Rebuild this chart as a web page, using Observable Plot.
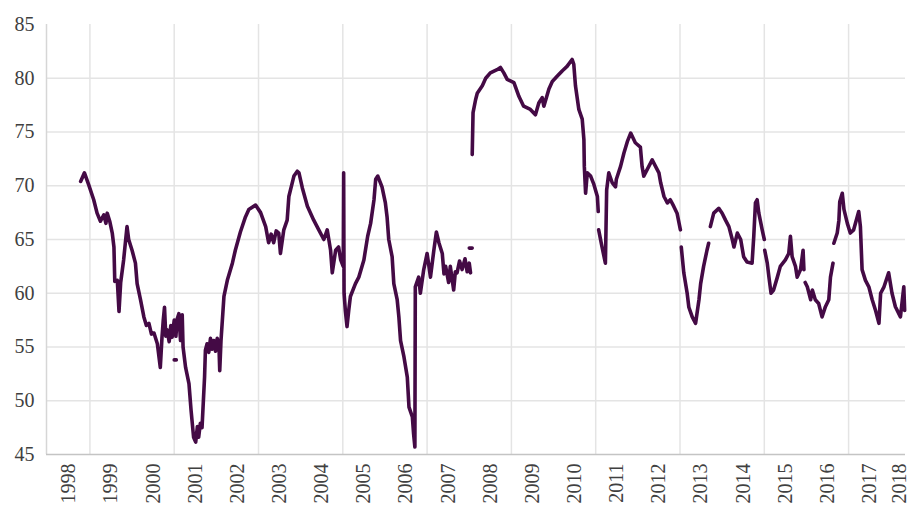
<!DOCTYPE html>
<html><head><meta charset="utf-8">
<script src="https://cdn.jsdelivr.net/npm/d3@7"></script>
<script src="https://cdn.jsdelivr.net/npm/@observablehq/plot@0.6"></script>
<style>body{margin:0;background:#fff}</style>
</head><body><div id="chart"></div>
<script>
// decimal-year positions and index values (null = gap)
const dates = [
1998.28,1998.37,1998.47,1998.59,1998.67,1998.75,1998.83,1998.88,1998.91,1998.97,1999.03,1999.07,1999.09,1999.15,1999.19,1999.23,1999.30,1999.38,1999.42,
1999.50,1999.58,1999.62,1999.70,1999.78,1999.84,1999.90,1999.96,2000.02,2000.10,2000.17,2000.21,
2000.24,2000.27,2000.30,2000.33,2000.38,2000.42,2000.45,2000.50,2000.54,2000.57,2000.61,2000.65,2000.69,2000.71,
2000.77,2000.85,2000.90,2000.96,2001.01,2001.05,2001.08,2001.12,2001.16,2001.22,2001.24,2001.28,
2001.32,2001.36,2001.40,2001.44,2001.48,2001.52,2001.56,2001.58,2001.61,2001.68,2001.76,2001.88,2001.95,
2002.07,2002.19,2002.27,2002.43,2002.55,2002.67,2002.74,2002.80,2002.86,2002.92,2002.98,2003.02,2003.10,
2003.18,2003.22,2003.34,2003.42,2003.46,2003.54,2003.66,2003.81,2003.93,2004.05,2004.13,2004.21,2004.25,2004.33,2004.40,2004.45,
2004.51,2004.52,2004.53,2004.56,2004.60,2004.64,2004.68,2004.80,2004.88,2005.00,2005.09,2005.16,2005.24,2005.28,2005.33,
2005.43,2005.51,2005.55,2005.59,2005.67,2005.71,2005.79,2005.83,2005.87,2005.95,2006.03,2006.07,2006.15,2006.18,2006.21,2006.22,
2006.30,2006.34,2006.42,2006.50,2006.58,2006.66,2006.72,2006.78,2006.86,2006.90,2006.94,2007.01,2007.05,2007.13,2007.17,2007.21,2007.27,2007.33,2007.40,2007.45,2007.50,2007.53,
2007.55,
2007.57,2007.59,2007.65,2007.69,2007.81,2007.89,2008.00,2008.16,2008.24,2008.32,2008.40,2008.56,2008.68,2008.79,2008.95,
2009.07,2009.15,2009.23,2009.27,2009.39,2009.47,2009.59,2009.71,2009.82,2009.94,2009.98,2010.02,2010.10,2010.18,2010.22,2010.23,2010.26,2010.30,2010.38,2010.45,2010.54,2010.56,
2010.565,
2010.57,2010.65,2010.73,2010.76,2010.81,2010.89,2010.97,2010.99,2011.09,2011.17,2011.25,2011.33,2011.44,2011.56,2011.60,2011.64,2011.76,2011.84,2011.92,2012.00,2012.04,2012.12,2012.20,2012.27,2012.35,2012.43,2012.51,
2012.52,
2012.53,2012.59,2012.67,2012.71,2012.79,2012.87,2012.95,2012.99,2013.06,2013.14,2013.18,
2013.20,
2013.22,2013.30,2013.42,2013.50,2013.58,2013.66,2013.74,2013.78,2013.86,2013.94,2014.01,2014.09,2014.21,2014.25,2014.29,2014.33,2014.37,2014.45,2014.50,
2014.505,
2014.51,2014.57,2014.61,2014.66,2014.72,2014.81,2014.88,2015.00,2015.08,2015.12,2015.16,2015.24,2015.28,2015.36,2015.42,2015.44,
2015.45,
2015.47,2015.52,2015.60,2015.64,2015.71,2015.79,2015.87,2015.95,2016.03,2016.07,2016.13,
2016.14,
2016.15,2016.23,2016.27,2016.29,2016.35,2016.39,2016.47,2016.54,2016.62,2016.74,2016.78,2016.82,2016.90,2016.98,2017.06,2017.14,2017.22,2017.26,2017.34,2017.45,2017.53,2017.61,2017.73,2017.81,2017.83
];
const values = [
70.4,71.2,70.1,68.7,67.45,66.7,67.3,66.5,67.45,66.7,65.6,64.3,61.1,61.2,58.3,61.0,63.1,66.2,65.0,
64.0,62.8,60.9,59.4,57.8,57.0,57.2,56.2,56.3,55.3,53.1,55.9,
57.5,58.7,56.0,56.6,55.5,57.0,55.9,57.5,56.0,57.6,58.1,55.6,58.0,55.0,
53.1,51.6,49.1,46.6,46.15,47.6,46.6,47.9,47.5,52.2,54.7,55.3,
54.5,55.8,54.8,55.6,54.6,55.8,55.3,52.8,55.6,59.7,61.2,62.8,64.0,
65.7,67.1,67.8,68.2,67.5,66.2,64.7,65.5,64.7,65.8,65.6,63.7,65.9,
66.8,69.0,70.9,71.35,71.2,69.8,68.1,66.8,65.9,65.0,65.9,64.0,61.9,64.0,64.3,63.1,
62.5,71.2,60.0,58.4,56.9,58.4,59.7,60.9,61.5,63.1,65.3,66.5,68.7,70.6,70.9,
69.9,68.4,67.1,65.0,63.4,60.9,59.4,57.8,55.6,54.1,52.2,49.4,48.5,46.9,45.7,60.6,
61.5,60.0,62.2,63.7,61.5,64.0,65.7,64.7,63.7,61.8,62.5,61.0,62.5,60.3,62.0,61.9,63.0,62.2,63.2,62.0,62.8,61.9,
null,
72.9,76.8,78.0,78.6,79.3,80.0,80.5,80.8,81.0,80.5,79.9,79.6,78.3,77.4,77.1,
76.6,77.7,78.2,77.4,79.0,79.7,80.2,80.7,81.1,81.75,81.3,79.3,77.1,76.2,74.3,71.8,69.3,71.2,70.9,70.2,69.0,67.6,
null,
65.9,64.3,62.8,69.6,71.2,70.3,69.9,70.6,71.8,73.05,74.1,74.9,74.0,73.6,71.8,70.9,71.8,72.4,71.8,71.2,70.3,69.0,68.4,68.7,68.1,67.45,65.9,
null,
64.3,61.9,60.0,58.7,57.8,57.2,59.4,60.9,62.5,64.0,64.65,
null,
66.2,67.45,67.9,67.45,66.8,66.2,65.0,64.3,65.6,65.0,63.4,62.9,62.8,65.3,68.4,68.7,67.45,65.9,65.0,
null,
64.0,62.8,61.5,60.0,60.3,61.5,62.5,63.1,63.7,65.3,63.4,62.5,61.5,62.2,64.0,62.2,
null,
61.0,60.6,59.4,60.3,59.4,59.05,57.8,58.75,59.4,61.5,62.8,
null,
64.65,65.6,66.8,68.5,69.3,67.8,66.5,65.6,65.9,67.6,66.2,62.2,61.2,60.6,59.4,58.4,57.2,60.0,60.6,61.9,60.0,58.75,57.8,60.6,58.4
];
// short isolated fragments
const fragDates = [2000.50, 2000.55, null, 2007.50, 2007.57];
const fragValues = [53.8, 53.8, null, 64.2, 64.2];

const years = d3.range(1998, 2019);
const yTicks = [45, 50, 55, 60, 65, 70, 75, 80, 85];
const yGrid = [50, 55, 60, 65, 70, 75, 80];
const xGrid = [1998.5, 2000.5, 2002.5, 2004.5, 2006.5, 2008.5, 2010.5, 2012.5, 2014.5, 2016.5];

const series = dates.map((t, i) => ({t, v: values[i]}));
const frags = fragDates.map((t, i) => ({t, v: fragValues[i]}));
const xMin = 1997.47, xMax = 2017.85;

const chart = Plot.plot({
  width: 912, height: 511,
  marginLeft: 46, marginRight: 7, marginTop: 24, marginBottom: 57,
  x: {domain: [xMin, xMax], axis: null},
  y: {domain: [45, 85], axis: null},
  style: {fontFamily: "'Liberation Serif', serif", fontSize: "20px", color: "#404040", background: "#fff"},
  marks: [
    Plot.ruleY(yGrid, {stroke: "#e4e4e4", strokeWidth: 1.5}),
    Plot.ruleX(xGrid, {stroke: "#e4e4e4", strokeWidth: 1.5}),
    Plot.ruleX([xMin], {stroke: "#d6d6d6", strokeWidth: 1.5}),
    Plot.ruleY([45], {stroke: "#c4c4c4", strokeWidth: 1.5}),
    Plot.line(series, {x: "t", y: "v", stroke: "#440a45", strokeWidth: 3.6}),
    Plot.line(frags, {x: "t", y: "v", stroke: "#440a45", strokeWidth: 3.6}),
    Plot.text(yTicks, {y: d => d, frameAnchor: "left", text: d => String(d), textAnchor: "end", dx: -12, fill: "#404040"}),
    Plot.text(years, {x: d => Math.min(d, 2017.72), frameAnchor: "bottom", text: d => String(d), rotate: -90, textAnchor: "end", lineAnchor: "middle", dy: 9, fill: "#404040"})
  ]
});
document.getElementById("chart").append(chart);
</script>
</body></html>
